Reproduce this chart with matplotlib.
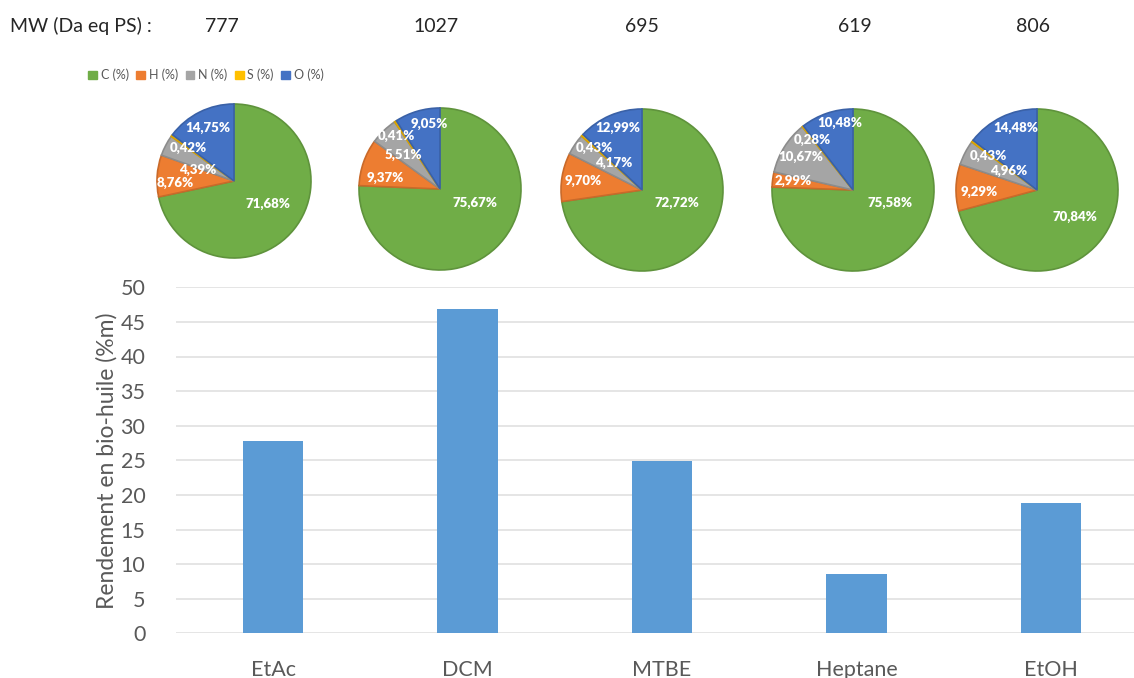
#!/usr/bin/env python

import numpy as np
import matplotlib as mpl
import matplotlib.pyplot as plt
from matplotlib.patches import Patch
from matplotlib.colors import to_rgb

mpl.rc('font', family=['Lato', 'DejaVu Sans'])

# bio-oil yield per extraction solvent
solvents = ['EtAc', 'DCM', 'MTBE', 'Heptane', 'EtOH']
yields = [27.8, 46.9, 24.9, 8.6, 18.8]

# molecular weight (Da, PS equivalent)
mw = [777, 1027, 695, 619, 806]

# elemental composition (%)
elements = ['C (%)', 'H (%)', 'N (%)', 'S (%)', 'O (%)']
comp_c = [71.68, 75.67, 72.72, 75.58, 70.84]
comp_h = [8.76, 9.37, 9.70, 2.99, 9.29]
comp_n = [4.39, 5.51, 4.17, 10.67, 4.96]
comp_s = [0.42, 0.41, 0.43, 0.28, 0.43]
comp_o = [14.75, 9.05, 12.99, 10.48, 14.48]

pie_colors = ['#70AD47', '#ED7D31', '#A5A5A5', '#FFC000', '#4472C4']
bar_color = '#5B9BD5'
text_grey = '#595959'

W, H = 1134, 678

# data label placement per pie: (radius fraction, angle shift in deg)
# for C, H, N, S, O, so the small slices don't collide
label_pos = [
    [(0.53, 5), (0.77, 6), (0.49, 11), (0.73, 0), (0.77, 0)],
    [(0.47, 24), (0.69, 8), (0.62, 3), (0.84, 6), (0.82, -7)],
    [(0.46, 20), (0.73, 0), (0.48, -10), (0.78, 1), (0.82, -2)],
    [(0.48, 27), (0.75, -1), (0.76, 0), (0.80, 1), (0.84, -8)],
    [(0.57, 2), (0.71, 4), (0.42, -6), (0.74, 2), (0.81, -7)],
]


def darker(c, f=0.85):
    return tuple(v * f for v in to_rgb(c))


def main() -> None:

    fig = plt.figure(figsize=(W / 100, H / 100), dpi=100)

    # bar chart, right end runs past the figure edge
    cat_w = 194.4
    left, bottom, top = 176, 633.3, 287.3
    ax = fig.add_axes([left / W, (H - bottom) / H,
                       5 * cat_w / W, (bottom - top) / H])
    x = np.arange(len(solvents))
    ax.bar(x, yields, width=0.31, color=bar_color, zorder=2)
    ax.set_xlim(-0.5, len(solvents) - 0.5)
    ax.set_ylim(0, 50)
    ax.set_yticks(np.arange(0, 51, 5))
    ax.set_xticks(x)
    ax.set_xticklabels(solvents)
    ax.tick_params(axis='both', length=0, labelsize=15.5, colors=text_grey)
    ax.tick_params(axis='y', pad=22)
    ax.tick_params(axis='x', pad=19)
    ax.grid(axis='y', color='#E3E3E3', lw=1.3, zorder=0)
    for s in ax.spines.values():
        s.set_visible(False)
    ax.set_ylabel('Rendement en bio-huile (%m)', fontsize=16.5,
                  color=text_grey, labelpad=2)

    # pies drawn in a pixel-coordinate overlay
    pa = fig.add_axes([0, 0, 1, 1])
    centers = [(234, 181), (440, 189), (642, 190), (853, 190), (1037, 190)]
    radii = [77, 81, 81, 81, 81]

    for i in range(len(solvents)):
        vals = [comp_c[i], comp_h[i], comp_n[i], comp_s[i], comp_o[i]]
        cx, cy = centers[i]
        cy = H - cy
        r = radii[i]
        wedges, _ = pa.pie(
            vals,
            colors=pie_colors,
            startangle=90,
            counterclock=False,
            center=(cx, cy),
            radius=r,
        )
        for w, c in zip(wedges, pie_colors):
            w.set_edgecolor(darker(c))
            w.set_linewidth(1.2)
        total = sum(vals)
        cum = 0.0
        for k, v in enumerate(vals):
            mid = 90 - 360 * (cum + v / 2) / total
            cum += v
            frac, shift = label_pos[i][k]
            a = np.deg2rad(mid + shift)
            d = frac * r
            pa.text(cx + d * np.cos(a), cy + d * np.sin(a),
                    f'{v:.2f}%'.replace('.', ','),
                    ha='center', va='center', color='white',
                    fontsize=9.5, fontweight='heavy')

    pa.set_xlim(0, W)
    pa.set_ylim(0, H)
    pa.set_aspect('auto')
    pa.axis('off')

    # molecular weight row
    fig.text(10 / W, 1 - 26 / H, 'MW (Da eq PS) :', fontsize=14,
             color='#262626', va='center', ha='left')
    mw_x = [222, 436, 642, 855, 1033]
    for xx, m in zip(mw_x, mw):
        fig.text(xx / W, 1 - 26 / H, str(m), fontsize=14,
                 color='#262626', va='center', ha='center')

    handles = [Patch(color=c) for c in pie_colors]
    fig.legend(
        handles, elements,
        ncol=5,
        loc='center',
        bbox_to_anchor=(206 / W, 1 - 75 / H),
        frameon=False,
        fontsize=9,
        labelcolor=text_grey,
        handlelength=0.7,
        handleheight=0.7,
        handletextpad=0.3,
        columnspacing=0.6,
    )

    fig.savefig('out.png', dpi=100)


if __name__ == '__main__':
    main()
